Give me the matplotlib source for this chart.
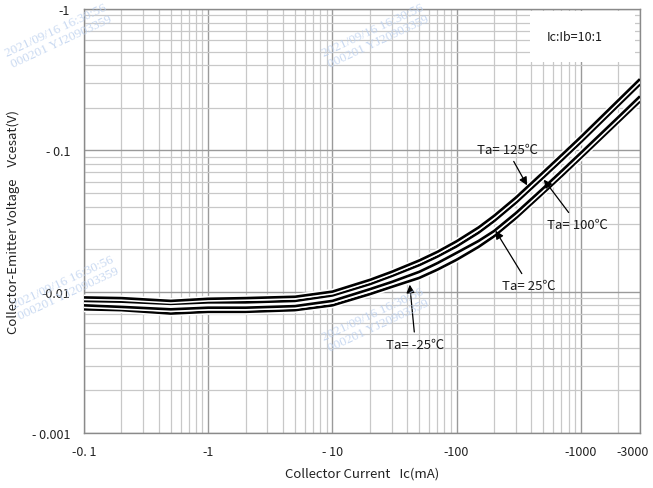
import matplotlib
matplotlib.use("Agg")
import matplotlib.pyplot as plt
import matplotlib.patheffects as pe
from matplotlib.patches import Rectangle
from matplotlib.transforms import ScaledTranslation

# collector current (mA, magnitude) and Vce(sat) (V, magnitude)
ic = [0.1, 0.2, 0.5, 1, 2, 5, 10, 20, 30, 50, 70, 100, 150, 200, 300, 500, 700, 1000, 2000, 3000]
vce_125 = [0.0091, 0.0090, 0.0086, 0.0089, 0.0090, 0.0092, 0.0100, 0.0121, 0.0138, 0.0166,
           0.0191, 0.0227, 0.0284, 0.0343, 0.0462, 0.0700, 0.0923, 0.124, 0.225, 0.319]
vce_100 = [0.0086, 0.0085, 0.0082, 0.0084, 0.0084, 0.0086, 0.0094, 0.0113, 0.0129, 0.0154,
           0.0177, 0.0209, 0.0261, 0.0315, 0.0425, 0.0643, 0.0847, 0.114, 0.207, 0.293]
vce_25 = [0.0080, 0.0078, 0.0075, 0.0077, 0.0077, 0.0079, 0.0086, 0.0104, 0.0117, 0.0138,
          0.0159, 0.0188, 0.0228, 0.0268, 0.0359, 0.0540, 0.0712, 0.0957, 0.171, 0.241]
vce_m25 = [0.0075, 0.0074, 0.0070, 0.0072, 0.0072, 0.0074, 0.0080, 0.0096, 0.0108, 0.0125,
           0.0143, 0.0168, 0.0207, 0.0246, 0.0331, 0.0499, 0.0656, 0.0883, 0.158, 0.222]

x_ticks = [0.1, 1, 10, 100, 1000, 3000]
x_labels = ["-0. 1", "-1", "- 10", "-100", "-1000", "-3000"]
y_ticks = [0.001, 0.01, 0.1, 1]
y_labels = ["- 0.001", "-0.01", "- 0.1", "-1"]

# label text, arrow tip (Ic, V), text centre (Ic, V)
notes = [
    ("Ta= 125\u2103", (370, 0.0565), (256, 0.101)),
    ("Ta= 100\u2103", (505, 0.062), (940, 0.0301)),
    ("Ta= 25\u2103", (206, 0.027), (383, 0.0111)),
    ("Ta= -25\u2103", (42, 0.0112), (46.7, 0.00426)),
]

font = ["Noto Sans CJK SC", "DejaVu Sans"]
plt.rcParams["font.family"] = font

fig = plt.figure(figsize=(6.53, 4.89), dpi=100)
ax = fig.add_axes([0.1286, 0.1125, 0.8514, 0.8671])
ax.set_xscale("log")
ax.set_yscale("log")
ax.set_xlim(0.1, 3000)
ax.set_ylim(0.001, 1)

ax.grid(True, which="major", color="#9a9a9a", lw=1.0)
ax.grid(True, which="minor", color="#c8c8c8", lw=0.9)
ax.set_axisbelow(True)
for s in ax.spines.values():
    s.set_color("#8a8a8a")
    s.set_linewidth(1.0)

ax.set_xticks(x_ticks)
ax.set_xticklabels(x_labels)
ax.set_yticks(y_ticks)
ax.set_yticklabels(y_labels)
ax.tick_params(which="both", length=0, labelsize=9, colors="#222222")
ax.tick_params(axis="x", pad=9)
ax.tick_params(axis="y", pad=10)
last = ax.get_xticklabels()[-1]
last.set_transform(last.get_transform() + ScaledTranslation(-7 / 100, 0, fig.dpi_scale_trans))

outline = [pe.Stroke(linewidth=4.2, foreground="white"), pe.Normal()]
for v in [vce_m25, vce_25, vce_100, vce_125]:
    ax.plot(ic, v, color="black", lw=1.9, solid_capstyle="butt", path_effects=outline, zorder=3)

for txt, tip, pos in notes:
    ax.annotate(txt, xy=tip, xytext=pos, ha="center", va="center", fontsize=9.5,
                color="#1a1a1a", zorder=5,
                arrowprops=dict(arrowstyle="-|>", color="black", lw=0.9,
                                mutation_scale=12, shrinkA=2, shrinkB=0))

ax.add_patch(Rectangle((0.802, 0.875), 0.19, 0.12, transform=ax.transAxes,
                       facecolor="white", edgecolor="none", zorder=4))
ax.text(0.883, 0.936, "Ic:Ib=10:1", transform=ax.transAxes, ha="center", va="center",
        fontsize=9, color="#1a1a1a", zorder=5)

ax.set_xlabel("Collector Current   Ic(mA)", fontsize=9.5, color="#222222", labelpad=6)
ax.set_ylabel("Collector-Emitter Voltage    Vcesat(V)", fontsize=9.5, color="#222222",
              labelpad=8)

# faint watermark stamps
marks = [(0.09, 0.925), (0.575, 0.925), (0.10, 0.41), (0.575, 0.345)]
for mx, my in marks:
    fig.text(mx, my, "2021/09/16 16:30:56\n000201 YJ20903359", ha="center", va="center",
             rotation=25, fontsize=9.5, family="Liberation Serif", color="#bcd0ee",
             alpha=0.8, linespacing=1.1, zorder=10)

fig.savefig("out.png", dpi=100)
